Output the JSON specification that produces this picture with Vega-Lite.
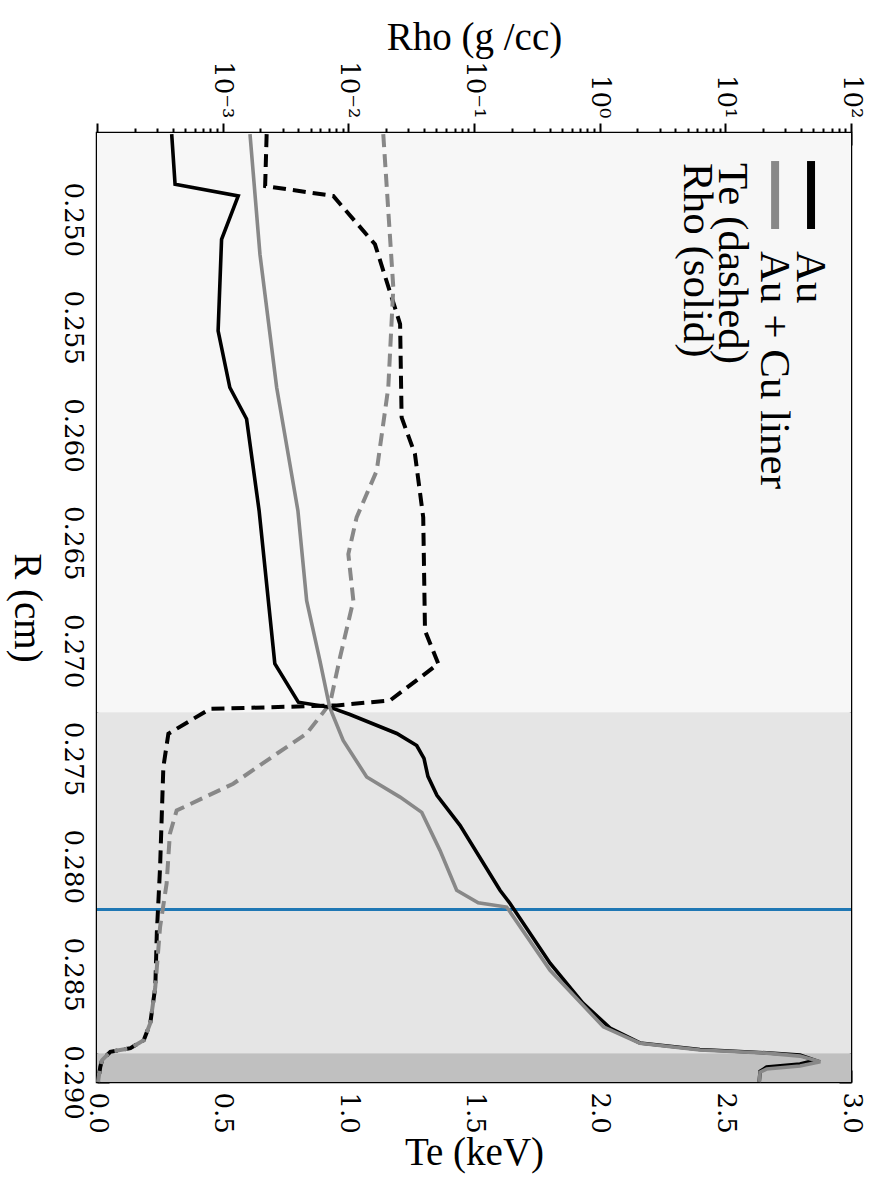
{
  "$schema": "https://vega.github.io/schema/vega-lite/v6.json",
  "width": 754,
  "height": 949,
  "autosize": {"type": "none"},
  "padding": {"left": 97, "top": 133, "right": 18, "bottom": 106},
  "background": "white",
  "config": {
    "view": {"stroke": "#000", "strokeWidth": 2.5},
    "axis": {
      "domain": false, "grid": false,
      "labelFont": "DejaVu Serif", "labelFontSize": 26, "labelColor": "#000",
      "titleFont": "Liberation Serif", "titleFontSize": 39, "titleFontWeight": "normal", "titleColor": "#000",
      "tickColor": "#000", "tickWidth": 2, "labelFlush": false, "labelOverlap": false
    }
  },
  "datasets": {
    "bands": [
      {"zone": "outer", "R": 0.246, "R2": 0.27286},
      {"zone": "mid", "R": 0.27286, "R2": 0.28867},
      {"zone": "inner", "R": 0.28867, "R2": 0.29}
    ],
    "marker": [{"R": 0.282}],
    "te": [
      {"series": "Au", "R": 0.24605, "Te": 0.675},
      {"series": "Au", "R": 0.24846, "Te": 0.669},
      {"series": "Au", "R": 0.24892, "Te": 0.940},
      {"series": "Au", "R": 0.25116, "Te": 1.106},
      {"series": "Au", "R": 0.25486, "Te": 1.206},
      {"series": "Au", "R": 0.25919, "Te": 1.212},
      {"series": "Au", "R": 0.26088, "Te": 1.265},
      {"series": "Au", "R": 0.26382, "Te": 1.298},
      {"series": "Au", "R": 0.26907, "Te": 1.305},
      {"series": "Au", "R": 0.27061, "Te": 1.358},
      {"series": "Au", "R": 0.27231, "Te": 1.166},
      {"series": "Au", "R": 0.27254, "Te": 0.954},
      {"series": "Au", "R": 0.27270, "Te": 0.450},
      {"series": "Au", "R": 0.27385, "Te": 0.284},
      {"series": "Au", "R": 0.27540, "Te": 0.264},
      {"series": "Au", "R": 0.28003, "Te": 0.251},
      {"series": "Au", "R": 0.28310, "Te": 0.238},
      {"series": "Au", "R": 0.28559, "Te": 0.232},
      {"series": "Au", "R": 0.28727, "Te": 0.212},
      {"series": "Au", "R": 0.28806, "Te": 0.186},
      {"series": "Au", "R": 0.28843, "Te": 0.133},
      {"series": "Au", "R": 0.28860, "Te": 0.053},
      {"series": "Au", "R": 0.28899, "Te": 0.020},
      {"series": "Au", "R": 0.28930, "Te": 0.013},
      {"series": "Au", "R": 0.28969, "Te": 0.008},
      {"series": "Au", "R": 0.29, "Te": 0.004},
      {"series": "Au + Cu liner", "R": 0.24605, "Te": 1.139},
      {"series": "Au + Cu liner", "R": 0.25317, "Te": 1.179},
      {"series": "Au + Cu liner", "R": 0.25780, "Te": 1.159},
      {"series": "Au + Cu liner", "R": 0.26166, "Te": 1.113},
      {"series": "Au + Cu liner", "R": 0.26382, "Te": 1.033},
      {"series": "Au + Cu liner", "R": 0.26552, "Te": 1.000},
      {"series": "Au + Cu liner", "R": 0.26768, "Te": 1.020},
      {"series": "Au + Cu liner", "R": 0.27031, "Te": 0.967},
      {"series": "Au + Cu liner", "R": 0.27246, "Te": 0.927},
      {"series": "Au + Cu liner", "R": 0.27385, "Te": 0.834},
      {"series": "Au + Cu liner", "R": 0.27478, "Te": 0.715},
      {"series": "Au + Cu liner", "R": 0.27617, "Te": 0.542},
      {"series": "Au + Cu liner", "R": 0.27741, "Te": 0.317},
      {"series": "Au + Cu liner", "R": 0.27849, "Te": 0.290},
      {"series": "Au + Cu liner", "R": 0.28080, "Te": 0.277},
      {"series": "Au + Cu liner", "R": 0.28281, "Te": 0.251},
      {"series": "Au + Cu liner", "R": 0.28559, "Te": 0.232},
      {"series": "Au + Cu liner", "R": 0.28727, "Te": 0.212},
      {"series": "Au + Cu liner", "R": 0.28806, "Te": 0.186},
      {"series": "Au + Cu liner", "R": 0.28843, "Te": 0.133},
      {"series": "Au + Cu liner", "R": 0.28860, "Te": 0.053},
      {"series": "Au + Cu liner", "R": 0.28899, "Te": 0.020},
      {"series": "Au + Cu liner", "R": 0.28930, "Te": 0.013},
      {"series": "Au + Cu liner", "R": 0.28969, "Te": 0.008},
      {"series": "Au + Cu liner", "R": 0.29, "Te": 0.004}
    ],
    "rho": [
      {"series": "Au", "R": 0.24605, "rho": 0.000393},
      {"series": "Au", "R": 0.24838, "rho": 0.000418},
      {"series": "Au", "R": 0.24892, "rho": 0.00133},
      {"series": "Au", "R": 0.25093, "rho": 0.00098},
      {"series": "Au", "R": 0.25517, "rho": 0.00092},
      {"series": "Au", "R": 0.25780, "rho": 0.00114},
      {"series": "Au", "R": 0.25926, "rho": 0.00155},
      {"series": "Au", "R": 0.26351, "rho": 0.00195},
      {"series": "Au", "R": 0.27060, "rho": 0.0026},
      {"series": "Au", "R": 0.27239, "rho": 0.0040},
      {"series": "Au", "R": 0.27262, "rho": 0.0071},
      {"series": "Au", "R": 0.27296, "rho": 0.0103},
      {"series": "Au", "R": 0.27384, "rho": 0.0243},
      {"series": "Au", "R": 0.27440, "rho": 0.035},
      {"series": "Au", "R": 0.27500, "rho": 0.040},
      {"series": "Au", "R": 0.27583, "rho": 0.043},
      {"series": "Au", "R": 0.27671, "rho": 0.0507},
      {"series": "Au", "R": 0.27810, "rho": 0.0774},
      {"series": "Au", "R": 0.28111, "rho": 0.161},
      {"series": "Au", "R": 0.28171, "rho": 0.193},
      {"series": "Au", "R": 0.28449, "rho": 0.403},
      {"series": "Au", "R": 0.28634, "rho": 0.736},
      {"series": "Au", "R": 0.28750, "rho": 1.21},
      {"series": "Au", "R": 0.28819, "rho": 2.09},
      {"series": "Au", "R": 0.28849, "rho": 6.28},
      {"series": "Au", "R": 0.28865, "rho": 21.3},
      {"series": "Au", "R": 0.28875, "rho": 39.3},
      {"series": "Au", "R": 0.28899, "rho": 51.6},
      {"series": "Au", "R": 0.28917, "rho": 39.3},
      {"series": "Au", "R": 0.28931, "rho": 21.3},
      {"series": "Au", "R": 0.28950, "rho": 18.9},
      {"series": "Au", "R": 0.29, "rho": 18.6},
      {"series": "Au + Cu liner", "R": 0.24605, "rho": 0.00165},
      {"series": "Au + Cu liner", "R": 0.25162, "rho": 0.00198},
      {"series": "Au + Cu liner", "R": 0.25780, "rho": 0.00269},
      {"series": "Au + Cu liner", "R": 0.26351, "rho": 0.00397},
      {"series": "Au + Cu liner", "R": 0.26768, "rho": 0.00466},
      {"series": "Au + Cu liner", "R": 0.27046, "rho": 0.00594},
      {"series": "Au + Cu liner", "R": 0.27262, "rho": 0.0071},
      {"series": "Au + Cu liner", "R": 0.27416, "rho": 0.0091},
      {"series": "Au + Cu liner", "R": 0.27586, "rho": 0.0140},
      {"series": "Au + Cu liner", "R": 0.27679, "rho": 0.0258},
      {"series": "Au + Cu liner", "R": 0.27750, "rho": 0.0384},
      {"series": "Au + Cu liner", "R": 0.27926, "rho": 0.0536},
      {"series": "Au + Cu liner", "R": 0.28111, "rho": 0.0728},
      {"series": "Au + Cu liner", "R": 0.28169, "rho": 0.108},
      {"series": "Au + Cu liner", "R": 0.28189, "rho": 0.182},
      {"series": "Au + Cu liner", "R": 0.28482, "rho": 0.403},
      {"series": "Au + Cu liner", "R": 0.28744, "rho": 1.07},
      {"series": "Au + Cu liner", "R": 0.28820, "rho": 2.09},
      {"series": "Au + Cu liner", "R": 0.28852, "rho": 6.28},
      {"series": "Au + Cu liner", "R": 0.28866, "rho": 21.3},
      {"series": "Au + Cu liner", "R": 0.28880, "rho": 39.3},
      {"series": "Au + Cu liner", "R": 0.28906, "rho": 57},
      {"series": "Au + Cu liner", "R": 0.28926, "rho": 39.3},
      {"series": "Au + Cu liner", "R": 0.28940, "rho": 21.3},
      {"series": "Au + Cu liner", "R": 0.28954, "rho": 18.9},
      {"series": "Au + Cu liner", "R": 0.29, "rho": 18.6}
    ],
    "legendAu": [{"label": "Au"}],
    "legendCu": [{"label": "Au + Cu liner"}],
    "legendTe": [{"label": "Te (dashed)"}],
    "legendRho": [{"label": "Rho (solid)"}]
  },
  "layer": [
    {
      "encoding": {
        "y": {
          "field": "R", "type": "quantitative",
          "scale": {"domain": [0.246, 0.29], "reverse": true, "zero": false, "nice": false},
          "axis": {
            "orient": "left",
            "values": [0.25, 0.255, 0.26, 0.265, 0.27, 0.275, 0.28, 0.285, 0.29],
            "format": ".3f", "labelAngle": 90, "labelAlign": "center", "labelBaseline": "top",
            "tickSize": -12, "labelPadding": 24,
            "title": "R (cm)", "titleAngle": 90, "titleBaseline": "top", "titlePadding": 14
          }
        }
      },
      "layer": [
        {
          "data": {"name": "bands"},
          "mark": {"type": "rect"},
          "encoding": {
            "y2": {"field": "R2"},
            "fill": {"field": "zone", "type": "nominal",
              "scale": {"domain": ["outer", "mid", "inner"], "range": ["#f7f7f7", "#e5e5e5", "#c0c0c0"]},
              "legend": null}
          }
        },
        {
          "data": {"name": "marker"},
          "mark": {"type": "rule", "color": "#1f77b4", "strokeWidth": 3},
          "encoding": {}
        },
        {
          "data": {"name": "te"},
          "mark": {"type": "line", "strokeDash": [13, 7], "strokeWidth": 4},
          "encoding": {
            "x": {
              "field": "Te", "type": "quantitative",
              "scale": {"domain": [0, 3], "nice": false, "zero": false},
              "axis": {
                "orient": "bottom", "values": [0, 0.5, 1, 1.5, 2, 2.5, 3], "format": ".1f",
                "labelAngle": 90, "labelAlign": "left", "labelBaseline": "middle",
                "tickSize": -12, "labelPadding": 22,
                "title": "Te (keV)", "titlePadding": 0
              }
            },
            "stroke": {"field": "series", "type": "nominal",
              "scale": {"domain": ["Au", "Au + Cu liner"], "range": ["#000000", "#888888"]},
              "legend": null},
            "order": {"field": "R", "type": "quantitative"}
          }
        }
      ]
    },
    {
      "data": {"name": "rho"},
      "mark": {"type": "line", "strokeWidth": 3.6},
      "encoding": {
        "x": {
          "field": "rho", "type": "quantitative",
          "scale": {"type": "log", "domain": [0.0001, 100], "nice": false},
          "axis": {
            "orient": "top",
            "values": [0.0001, 0.0002, 0.0003, 0.0004, 0.0005, 0.0006, 0.0007, 0.0008, 0.0009,
                       0.001, 0.002, 0.003, 0.004, 0.005, 0.006, 0.007, 0.008, 0.009,
                       0.01, 0.02, 0.03, 0.04, 0.05, 0.06, 0.07, 0.08, 0.09,
                       0.1, 0.2, 0.3, 0.4, 0.5, 0.6, 0.7, 0.8, 0.9,
                       1, 2, 3, 4, 5, 6, 7, 8, 9,
                       10, 20, 30, 40, 50, 60, 70, 80, 90, 100],
            "labelExpr": "abs(log(datum.value)/LN10 - round(log(datum.value)/LN10)) < 0.01 && datum.value > 0.0005 ? ['10⁻⁴','10⁻³','10⁻²','10⁻¹','10⁰','10¹','10²'][round(log(datum.value)/LN10) + 4] : ''",
            "labelAngle": 90, "labelAlign": "right", "labelBaseline": "middle",
            "tickSize": {"condition": {"test": "abs(log(datum.value)/LN10 - round(log(datum.value)/LN10)) < 0.01", "value": 10}, "value": 5},
            "labelPadding": 5,
            "title": "Rho (g /cc)", "titlePadding": 3
          }
        },
        "y": {"field": "R", "type": "quantitative",
          "scale": {"domain": [0.246, 0.29], "reverse": true, "zero": false, "nice": false},
          "axis": null},
        "stroke": {"field": "series", "type": "nominal",
          "scale": {"domain": ["Au", "Au + Cu liner"], "range": ["#000000", "#888888"]},
          "legend": null},
        "order": {"field": "R", "type": "quantitative"}
      }
    },
    {
      "data": {"name": "te"},
      "mark": {"type": "point", "opacity": 0},
      "encoding": {
        "x": {"field": "Te", "type": "quantitative",
          "scale": {"domain": [0, 3], "nice": false, "zero": false},
          "axis": {"orient": "top", "values": [0, 0.5, 1, 1.5, 2, 2.5, 3], "labels": false, "tickSize": -12, "title": null}},
        "y": {"field": "R", "type": "quantitative",
          "scale": {"domain": [0.246, 0.29], "reverse": true, "zero": false, "nice": false},
          "axis": {"orient": "right", "values": [0.25, 0.255, 0.26, 0.265, 0.27, 0.275, 0.28, 0.285, 0.29], "labels": false, "tickSize": -12, "title": null}}
      }
    },
    {
      "layer": [
        {
          "data": {"name": "legendAu"},
          "mark": {"type": "rule", "color": "#000000", "strokeWidth": 8},
          "encoding": {
            "x": {"datum": 2.841, "type": "quantitative", "scale": {"domain": [0, 3], "nice": false, "zero": false}, "axis": null},
            "y": {"datum": 0.2473, "type": "quantitative", "scale": {"domain": [0.246, 0.29], "reverse": true, "zero": false, "nice": false}, "axis": null},
            "y2": {"datum": 0.25045}
          }
        },
        {
          "data": {"name": "legendCu"},
          "mark": {"type": "rule", "color": "#888888", "strokeWidth": 8},
          "encoding": {
            "x": {"datum": 2.698, "type": "quantitative", "scale": {"domain": [0, 3], "nice": false, "zero": false}, "axis": null},
            "y": {"datum": 0.2473, "type": "quantitative", "scale": {"domain": [0.246, 0.29], "reverse": true, "zero": false, "nice": false}, "axis": null},
            "y2": {"datum": 0.25045}
          }
        },
        {
          "data": {"name": "legendAu"},
          "mark": {"type": "text", "angle": 90, "align": "left", "baseline": "middle", "font": "Liberation Serif", "fontSize": 43, "color": "#000"},
          "encoding": {
            "x": {"datum": 2.835, "type": "quantitative", "scale": {"domain": [0, 3], "nice": false, "zero": false}, "axis": null},
            "y": {"datum": 0.25147, "type": "quantitative", "scale": {"domain": [0.246, 0.29], "reverse": true, "zero": false, "nice": false}, "axis": null},
            "text": {"field": "label"}
          }
        },
        {
          "data": {"name": "legendCu"},
          "mark": {"type": "text", "angle": 90, "align": "left", "baseline": "middle", "font": "Liberation Serif", "fontSize": 43, "color": "#000"},
          "encoding": {
            "x": {"datum": 2.694, "type": "quantitative", "scale": {"domain": [0, 3], "nice": false, "zero": false}, "axis": null},
            "y": {"datum": 0.25147, "type": "quantitative", "scale": {"domain": [0.246, 0.29], "reverse": true, "zero": false, "nice": false}, "axis": null},
            "text": {"field": "label"}
          }
        },
        {
          "data": {"name": "legendTe"},
          "mark": {"type": "text", "angle": 90, "align": "left", "baseline": "middle", "font": "Liberation Serif", "fontSize": 43, "color": "#000"},
          "encoding": {
            "x": {"datum": 2.527, "type": "quantitative", "scale": {"domain": [0, 3], "nice": false, "zero": false}, "axis": null},
            "y": {"datum": 0.24739, "type": "quantitative", "scale": {"domain": [0.246, 0.29], "reverse": true, "zero": false, "nice": false}, "axis": null},
            "text": {"field": "label"}
          }
        },
        {
          "data": {"name": "legendRho"},
          "mark": {"type": "text", "angle": 90, "align": "left", "baseline": "middle", "font": "Liberation Serif", "fontSize": 43, "color": "#000"},
          "encoding": {
            "x": {"datum": 2.387, "type": "quantitative", "scale": {"domain": [0, 3], "nice": false, "zero": false}, "axis": null},
            "y": {"datum": 0.24739, "type": "quantitative", "scale": {"domain": [0.246, 0.29], "reverse": true, "zero": false, "nice": false}, "axis": null},
            "text": {"field": "label"}
          }
        }
      ]
    }
  ],
  "resolve": {
    "scale": {"x": "independent"},
    "axis": {"x": "independent", "y": "independent"}
  }
}
